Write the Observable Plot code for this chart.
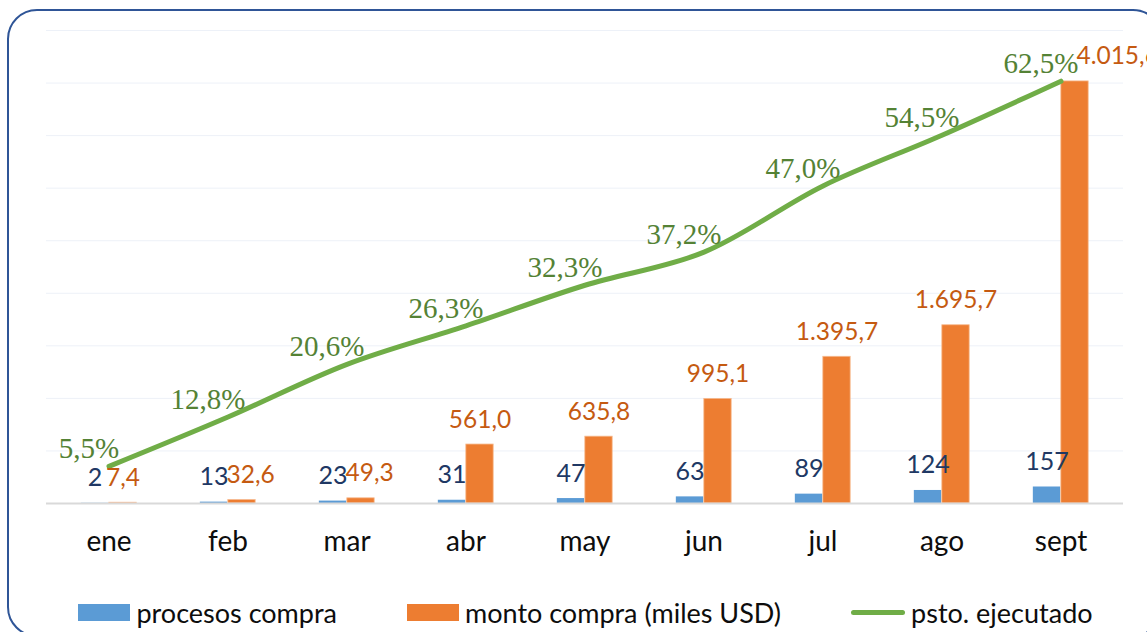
<!DOCTYPE html>
<html>
<head>
<meta charset="utf-8">
<script src="https://cdn.jsdelivr.net/npm/d3@7"></script>
<script src="https://cdn.jsdelivr.net/npm/@observablehq/plot@0.6"></script>
<style>
  html, body { margin: 0; padding: 0; background: #fff; }
  #wrap { position: relative; width: 1147px; height: 632px; overflow: hidden; background: #fff; }
  #frame { position: absolute; left: 7px; top: 9px; width: 1156px; height: 628px; box-sizing: border-box;
           border: 2px solid #2F5597; border-radius: 30px; pointer-events: none; }
  #chart { position: absolute; left: 0; top: 0; }
  #legend { position: absolute; left: 0; top: 596px; width: 1147px; padding-left: 24px; box-sizing: border-box;
            display: flex; justify-content: center; align-items: center; gap: 70px;
            font-family: Lato, sans-serif; font-size: 27px; color: #0d0d0d; }
  .item { display: flex; align-items: center; gap: 6px; white-space: nowrap; }
  .sw { width: 52px; height: 17px; }
  .ln { width: 54px; height: 5px; border-radius: 3px; background: #70AD47; }
</style>
</head>
<body>
<div id="wrap">
  <div id="chart"></div>
  <div id="legend"></div>
  <div id="frame"></div>
</div>
<script>
const months   = ["ene","feb","mar","abr","may","jun","jul","ago","sept"];
const procesos = [2, 13, 23, 31, 47, 63, 89, 124, 157];
const monto    = [7.4, 32.6, 49.3, 561.0, 635.8, 995.1, 1395.7, 1695.7, 4015.6];
const psto     = [5.5, 12.8, 20.6, 26.3, 32.3, 37.2, 47.0, 54.5, 62.5];
const leftMax = 4500, rightMax = 70, gridStep = 500;
const seriesNames = ["procesos compra", "monto compra (miles USD)", "psto. ejecutado"];

const rows = months.map((m, i) => ({month: m, procesos: procesos[i], monto: monto[i], psto: psto[i]}));
const loc = d3.formatLocale({decimal: ",", thousands: ".", grouping: [3], currency: ["", ""]});
const f1 = loc.format(",.1f");
const fInt = loc.format("d");

const W = 1147, H = 585, mL = 46, mR = 24;
const bw = (W - mL - mR) / months.length;
const barW = 28;

const chart = Plot.plot({
  width: W, height: H,
  marginLeft: mL, marginRight: mR, marginTop: 30, marginBottom: H - 503,
  x: {domain: months, padding: 0, label: null},
  y: {domain: [0, leftMax], label: null, axis: null},
  style: {background: "transparent", overflow: "visible", fontFamily: "Lato, sans-serif"},
  marks: [
    Plot.gridY(d3.range(gridStep, leftMax + 1, gridStep), {stroke: "#EDF1F8", strokeOpacity: 1, strokeWidth: 1}),
    Plot.barY(rows, {x: "month", y: "procesos", fill: "#5B9BD5",
      insetLeft: bw / 2 - barW, insetRight: bw / 2}),
    Plot.barY(rows, {x: "month", y: "monto", fill: "#ED7D31", stroke: "#F6B98E", strokeWidth: 0.8,
      insetLeft: bw / 2, insetRight: bw / 2 - barW}),
    Plot.ruleY([0], {stroke: "#D9D9D9", strokeWidth: 2}),
    Plot.line(rows, {x: "month", y: d => d.psto / rightMax * leftMax, stroke: "#70AD47",
      strokeWidth: 5, curve: "catmull-rom", strokeLinecap: "round"}),
    Plot.text(rows, {x: "month", y: "procesos", text: d => fInt(d.procesos), dx: -barW / 2, dy: -17,
      lineAnchor: "bottom", fill: "#203864", fontSize: 25, ariaDescription: "procesos-labels"}),
    Plot.text(rows, {x: "month", y: "monto", text: d => f1(d.monto), dx: barW / 2, dy: -17,
      lineAnchor: "bottom", fill: "#C55A11", fontSize: 24.5, ariaDescription: "monto-labels"}),
    Plot.text(rows, {x: "month", y: d => d.psto / rightMax * leftMax, text: d => f1(d.psto) + "%",
      dx: -20, dy: -8, lineAnchor: "bottom", fill: "#548235", fontSize: 29,
      fontFamily: "'Liberation Serif', serif", ariaDescription: "psto-labels"}),
    Plot.axisX({tickSize: 0, tickPadding: 28, fontSize: 28, fill: "#0d0d0d", label: null})
  ]
});
document.getElementById("chart").appendChild(chart);

// nudge amount labels to the right when they collide with another label on about the same line
function nudge() {
  let groups = [...chart.querySelectorAll('g[aria-description]')];
  const byDesc = d => groups.find(g => g.getAttribute("aria-description") === d);
  let gP = byDesc("procesos-labels"), gM = byDesc("monto-labels"), gS = byDesc("psto-labels");
  if (!gP || !gM || !gS) {
    const tg = [...chart.querySelectorAll('g[aria-label="text"]')];
    [gP, gM, gS] = tg;
  }
  if (!gP || !gM || !gS) return;
  const orange = [...gM.querySelectorAll("text")];
  const others = [...gP.querySelectorAll("text"), ...gS.querySelectorAll("text")];
  orange.forEach(t => {
    const r = t.getBoundingClientRect();
    let shift = 0;
    for (const o of others) {
      const q = o.getBoundingClientRect();
      const v = Math.abs(r.bottom - q.bottom) < 18;
      const h = r.left + shift < q.right - 2 && r.right + shift > q.left;
      if (v && h) shift = Math.max(shift, q.right - 2 - r.left);
    }
    if (shift) t.setAttribute("transform", (t.getAttribute("transform") || "") + ` translate(${shift},0)`);
  });
}
nudge();

const legend = document.getElementById("legend");
const fills = ["#5B9BD5", "#ED7D31"];
seriesNames.forEach((name, i) => {
  const it = document.createElement("div");
  it.className = "item";
  const sw = document.createElement("div");
  if (i < 2) { sw.className = "sw"; sw.style.background = fills[i]; }
  else { sw.className = "ln"; }
  const tx = document.createElement("span");
  tx.textContent = name;
  it.appendChild(sw); it.appendChild(tx);
  legend.appendChild(it);
});
</script>
</body>
</html>
